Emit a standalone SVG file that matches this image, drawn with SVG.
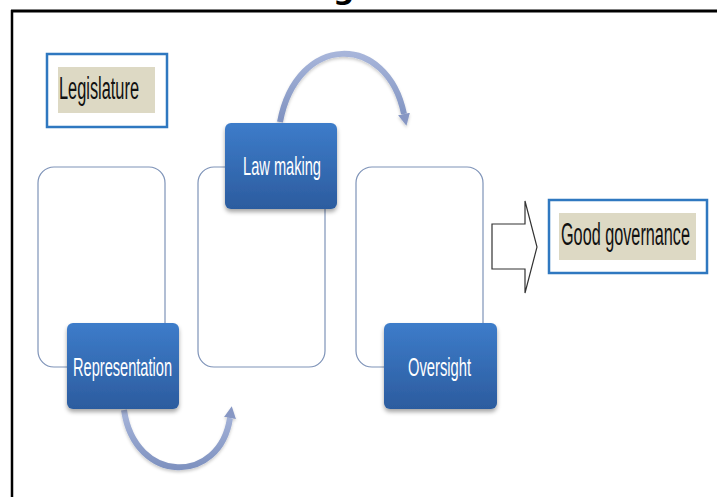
<svg xmlns="http://www.w3.org/2000/svg" width="717" height="497" viewBox="0 0 717 497">
<style>
.frame{stroke:#000;fill:none}
.outline{fill:#fff;stroke:#7e93b8;stroke-width:1.2}
.blue{fill:url(#blueGrad);filter:url(#shadow)}
.ntext{font-family:"Liberation Sans Narrow","Liberation Sans",Arial,sans-serif;fill:#fff;font-size:26px}
.ltext{font-family:"Liberation Sans Narrow","Liberation Sans",Arial,sans-serif;fill:#111;font-size:31px}
.lbox{fill:#fff;stroke:#2f78c0;stroke-width:2.5}
.tan{fill:#ddd9c4}
.arc{fill:none;stroke:url(#arcGrad);stroke-width:6;filter:url(#soft)}
.block{fill:#fff;stroke:#333;stroke-width:1.2}
</style>
<defs>
<linearGradient id="blueGrad" x1="0" y1="0" x2="0" y2="1">
<stop offset="0" stop-color="#3d7cca"/>
<stop offset="1" stop-color="#2c5c9f"/>
</linearGradient>
<linearGradient id="arcGrad" x1="0" y1="0" x2="0" y2="1">
<stop offset="0" stop-color="#a7b5da"/>
<stop offset="1" stop-color="#7f92c0"/>
</linearGradient>
<filter id="shadow" x="-10%" y="-10%" width="120%" height="130%">
<feDropShadow dx="0" dy="3" stdDeviation="2" flood-color="#000" flood-opacity="0.35"/>
</filter>
<filter id="soft" x="-10%" y="-10%" width="120%" height="130%">
<feDropShadow dx="0" dy="2" stdDeviation="1.5" flood-color="#000" flood-opacity="0.2"/>
</filter>
<marker id="arcHead" viewBox="0 0 10 10" refX="0" refY="5" markerWidth="12" markerHeight="12" markerUnits="userSpaceOnUse" orient="auto">
<path d="M0,0 L10,5 L0,10 z" fill="#8797c4"/>
</marker>
</defs>

<g id="frame">
<line class="frame" x1="11" y1="11" x2="717" y2="11" stroke-width="3"/>
<line class="frame" x1="12" y1="10" x2="12" y2="497" stroke-width="2.5"/>
<text x="333" y="-1" font-family="DejaVu Sans, sans-serif" font-weight="bold" font-size="30" fill="#000">g</text>
</g>

<g id="legislature">
<rect class="lbox" x="47" y="54" width="120" height="73"/>
<rect class="tan" x="58" y="67" width="97" height="46"/>
<text class="ltext" x="59" y="99" textLength="80" lengthAdjust="spacingAndGlyphs">Legislature</text>
</g>

<g id="box-representation">
<rect class="outline" x="38" y="167" width="127" height="200" rx="16"/>
</g>
<g id="box-lawmaking">
<rect class="outline" x="198" y="167" width="127" height="200" rx="16"/>
</g>
<g id="box-oversight">
<rect class="outline" x="356" y="167" width="127" height="200" rx="16"/>
</g>

<g id="connectors">
<path class="arc" d="M124,410 C135,485 220,485 230,418" marker-end="url(#arcHead)"/>
<path class="arc" d="M280,122 C297,33 387,32 404,114" marker-end="url(#arcHead)"/>
<polygon class="block" points="492,224 525,224 525,201 537,247 525,293 525,269 492,269"/>
</g>

<g id="representation">
<rect class="blue" x="67" y="323" width="112" height="86" rx="6"/>
<text class="ntext" x="73" y="376" textLength="99" lengthAdjust="spacingAndGlyphs">Representation</text>
</g>
<g id="lawmaking">
<rect class="blue" x="225" y="123" width="112" height="86" rx="6"/>
<text class="ntext" x="243" y="175" textLength="78" lengthAdjust="spacingAndGlyphs">Law making</text>
</g>
<g id="oversight">
<rect class="blue" x="384" y="323" width="113" height="86" rx="6"/>
<text class="ntext" x="408" y="376" textLength="63" lengthAdjust="spacingAndGlyphs">Oversight</text>
</g>

<g id="good-governance">
<rect class="lbox" x="549" y="200" width="158" height="73"/>
<rect class="tan" x="559" y="213" width="137" height="47"/>
<text class="ltext" x="561" y="245" textLength="129" lengthAdjust="spacingAndGlyphs">Good governance</text>
</g>
</svg>
